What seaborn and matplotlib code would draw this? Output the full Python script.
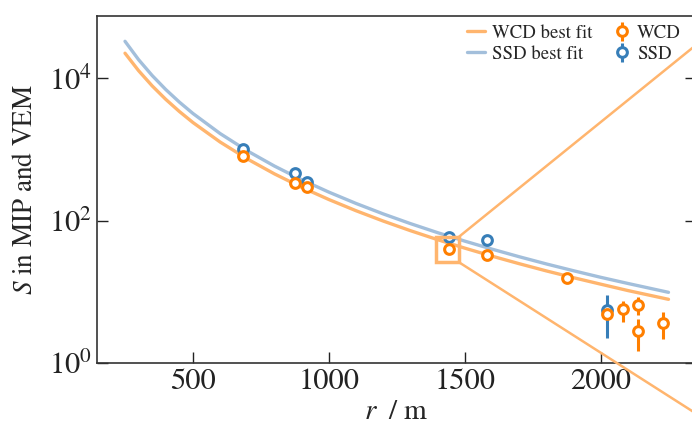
import numpy as np
import pandas as pd
import matplotlib
matplotlib.use("Agg")
import matplotlib.pyplot as plt
import seaborn as sns
from matplotlib.patches import Rectangle, ConnectionPatch
from matplotlib.lines import Line2D
from matplotlib.ticker import FixedLocator, LogFormatterMathtext, NullLocator

# ---- data ----
fit_r = [250, 300, 350, 400, 450, 500, 600, 700, 800, 900, 1000, 1100, 1200,
         1300, 1400, 1500, 1600, 1700, 1800, 1900, 2000, 2100, 2250]
fit_ssd = [32860, 18150, 10875, 6917, 4611, 3192, 1670, 955, 584, 375.6, 252,
           174.8, 124.7, 91.2, 68.1, 51.8, 40.0, 31.3, 24.8, 19.9, 16.1, 13.2, 9.9]
fit_wcd = [22360, 12715, 7780, 5035, 3404, 2384, 1270, 735.5, 453.8, 294, 198.4,
           138.2, 99.0, 72.6, 54.3, 41.3, 31.9, 25.0, 19.8, 15.9, 12.9, 10.5, 7.9]

wcd_r = [684, 875, 919, 1443, 1582, 1875, 2022, 2081, 2136, 2136, 2231]
wcd_s = [798, 334, 293, 39.5, 32.7, 15.9, 4.86, 5.7, 6.5, 2.84, 3.67]
wcd_lo = [30, 15, 12, 2, 2, 1.5, 0.5, 1.9, 1.8, 1.35, 1.5]
wcd_hi = [30, 15, 12, 2, 2, 1.5, 0.5, 1.8, 2.0, 1.4, 1.6]

ssd_r = [684, 875, 919, 1443, 1582, 2022]
ssd_s = [1000, 461, 345, 59, 54, 5.53]
ssd_lo = [40, 20, 15, 3, 6, 3.3]
ssd_hi = [40, 20, 15, 6, 3, 3.5]

x_ticks = [500, 1000, 1500, 2000]
y_ticks = [1, 1e2, 1e4]
zoom_box = (1395, 1480, 26, 60)  # r0, r1, S0, S1

# ---- style ----
sns.set_theme(style="ticks")
plt.rcParams["font.family"] = ["STIXGeneral", "DejaVu Serif"]
plt.rcParams["mathtext.fontset"] = "stix"

c_wcd = "#ff7f00"
c_ssd = "#377eb8"
c_wcd_fit = "#ffb56e"
c_ssd_fit = "#a3bfdb"

fig = plt.figure(figsize=(6.92, 4.36), dpi=100)
ax = fig.add_axes([0.1406, 0.1667, 0.8647, 0.7972])

fit_df = pd.DataFrame({
    "r": fit_r * 2,
    "S": fit_wcd + fit_ssd,
    "kind": ["WCD best fit"] * len(fit_r) + ["SSD best fit"] * len(fit_r),
})
sns.lineplot(data=fit_df, x="r", y="S", hue="kind",
             palette={"WCD best fit": c_wcd_fit, "SSD best fit": c_ssd_fit},
             linewidth=2.4, ax=ax, legend=False, zorder=2)

h_wcd = ax.errorbar(wcd_r, wcd_s, yerr=[wcd_lo, wcd_hi], fmt="o", color=c_wcd,
                    mfc="white", mec=c_wcd, mew=2.2, ms=7, elinewidth=2.2,
                    capsize=0, zorder=4)
h_ssd = ax.errorbar(ssd_r, ssd_s, yerr=[ssd_lo, ssd_hi], fmt="o", color=c_ssd,
                    mfc="white", mec=c_ssd, mew=2.2, ms=7, elinewidth=2.2,
                    capsize=0, zorder=3)

ax.set_yscale("log")
ax.set_xlim(148, 2350)
ax.set_ylim(1, 7.5e4)
ax.xaxis.set_major_locator(FixedLocator(x_ticks))
ax.yaxis.set_major_locator(FixedLocator(y_ticks))
ax.yaxis.set_major_formatter(LogFormatterMathtext())
ax.yaxis.set_minor_locator(NullLocator())
ax.xaxis.set_minor_locator(NullLocator())
ax.tick_params(direction="in", length=8, width=1, labelsize=22, colors="#222222",
               right=True, top=False)
for s in ax.spines.values():
    s.set_color("#333333")
    s.set_linewidth(1.2)
ax.set_xlabel(r"$r\;$ / m", fontsize=21, labelpad=3)
ax.set_ylabel("$S$ in MIP and VEM", fontsize=19.5, labelpad=8)

# zoom indicator
r0, r1, s0, s1 = zoom_box
ax.add_patch(Rectangle((r0, s0), r1 - r0, s1 - s0, fill=False,
                       edgecolor=c_wcd_fit, linewidth=2.5, zorder=5))
for (yb, yf) in [(s1, (436 + 120) / 436), (s0, -0.247)]:
    cp = ConnectionPatch(xyA=(r1, yb), coordsA=ax.transData,
                         xyB=(900 / 692, yf), coordsB=fig.transFigure,
                         color=c_wcd_fit, linewidth=1.8, clip_on=False, zorder=5)
    fig.add_artist(cp)

handles = [Line2D([], [], color=c_wcd_fit, lw=2.4),
           Line2D([], [], color=c_ssd_fit, lw=2.4), h_wcd, h_ssd]
labels = ["WCD best fit", "SSD best fit", "WCD", "SSD"]
ax.legend(handles, labels, loc="upper right", ncol=2, frameon=False,
          fontsize=13.5, handlelength=0.95, handletextpad=0.35,
          columnspacing=1.1, labelspacing=0.2, borderaxespad=0.0,
          borderpad=0.2, bbox_to_anchor=(0.982, 0.985))

fig.savefig("out.png", dpi=100)
